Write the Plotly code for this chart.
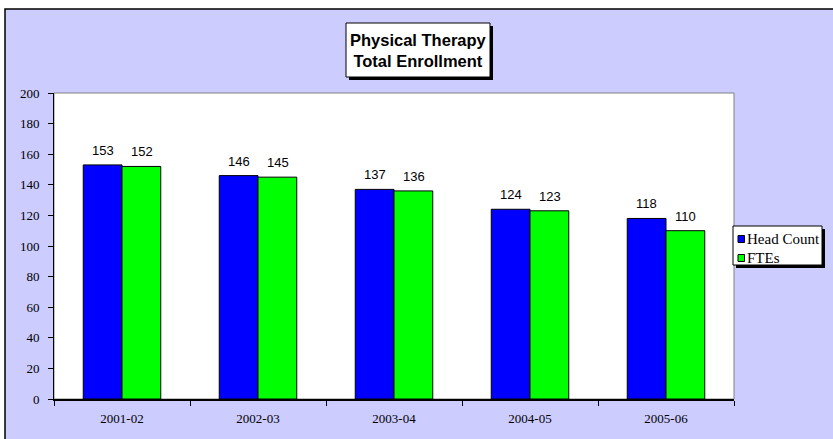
import plotly.graph_objects as go

years = ["2001-02", "2002-03", "2003-04", "2004-05", "2005-06"]
head_count = [153, 146, 137, 124, 118]
ftes = [152, 145, 136, 123, 110]
series_names = ["Head Count", "FTEs"]
series_colors = ["#0000FF", "#00FF00"]
y_ticks = list(range(0, 201, 20))

# plot area in pixels (833 x 439 page)
L, R, T, B = 54, 734, 93, 399


def px(x):
    return (x - L) / (R - L)


def py(y):
    return (B - y) / (B - T)


fig = go.Figure()
for name, vals, col in zip(series_names, [head_count, ftes], series_colors):
    fig.add_trace(go.Bar(x=years, y=vals, name=name, marker_color=col,
                         marker_line=dict(color="black", width=1), showlegend=False))

# value labels above each bar
shapes = []
annotations = []
for k, vals in enumerate([head_count, ftes]):
    for yr, v in zip(years, vals):
        annotations.append(dict(x=yr, y=v, xref="x", yref="y", text=str(v), showarrow=False,
                                xshift=-19.5 if k == 0 else 19.5, yanchor="bottom", yshift=5,
                                font=dict(family="Liberation Sans, Arial", size=13, color="black")))

# outer lavender panel
shapes.append(dict(type="rect", xref="paper", yref="paper", x0=px(5), x1=px(900), y0=py(500), y1=py(9),
                   fillcolor="#CCCCFF", line=dict(color="black", width=1.5), layer="below"))
# white plot area
shapes.append(dict(type="rect", xref="paper", yref="paper", x0=0, x1=1, y0=0, y1=1,
                   fillcolor="white", line=dict(color="#808080", width=1), layer="below"))

# title box with shadow
shapes.append(dict(type="rect", xref="paper", yref="paper", x0=px(349), x1=px(493), y0=py(80), y1=py(26),
                   fillcolor="black", line=dict(width=0)))
shapes.append(dict(type="rect", xref="paper", yref="paper", x0=px(346), x1=px(490), y0=py(77), y1=py(23),
                   fillcolor="white", line=dict(color="black", width=1)))
annotations.append(dict(x=px(418), y=py(50), xref="paper", yref="paper", showarrow=False,
                        xanchor="center", yanchor="middle",
                        text="<b>Physical Therapy<br>Total Enrollment</b>",
                        font=dict(family="Liberation Sans, Arial", size=16.5, color="black")))

# legend box with shadow
shapes.append(dict(type="rect", xref="paper", yref="paper", x0=px(736), x1=px(825), y0=py(268), y1=py(229),
                   fillcolor="black", line=dict(width=0)))
shapes.append(dict(type="rect", xref="paper", yref="paper", x0=px(733), x1=px(822), y0=py(265), y1=py(226),
                   fillcolor="white", line=dict(color="black", width=1)))
for i, (name, col) in enumerate(zip(series_names, series_colors)):
    cy = 239 + i * 19
    shapes.append(dict(type="rect", xref="paper", yref="paper", x0=px(738), x1=px(744.5),
                       y0=py(cy + 3.5), y1=py(cy - 3.5), fillcolor=col, line=dict(color="black", width=1)))
    annotations.append(dict(x=px(745), y=py(cy), xref="paper", yref="paper", text=name, showarrow=False,
                            xanchor="left", yanchor="middle",
                            font=dict(family="Liberation Serif, Times New Roman", size=15, color="black")))

fig.update_layout(
    width=833, height=439,
    margin=dict(l=L, r=833 - R, t=T, b=439 - B, pad=0),
    paper_bgcolor="white", plot_bgcolor="white",
    barmode="group", bargap=0.43, bargroupgap=0,
    shapes=shapes, annotations=annotations,
    font=dict(family="Liberation Serif, Times New Roman", size=13, color="black"),
    xaxis=dict(type="category", showgrid=False, showline=True, linecolor="black", linewidth=1.5,
               ticks="outside", tickson="boundaries", ticklen=5, tickcolor="black",
               ticklabelstandoff=7, fixedrange=True),
    yaxis=dict(range=[0, 200], tickvals=y_ticks, showgrid=False, zeroline=False, showline=True,
               linecolor="black", linewidth=1, ticks="outside", ticklen=5, tickcolor="black",
               ticklabelstandoff=6, fixedrange=True),
)

fig.write_html("out.html", config={"displayModeBar": False},
               post_script="document.body.style.margin='0';document.body.style.overflow='hidden';")
